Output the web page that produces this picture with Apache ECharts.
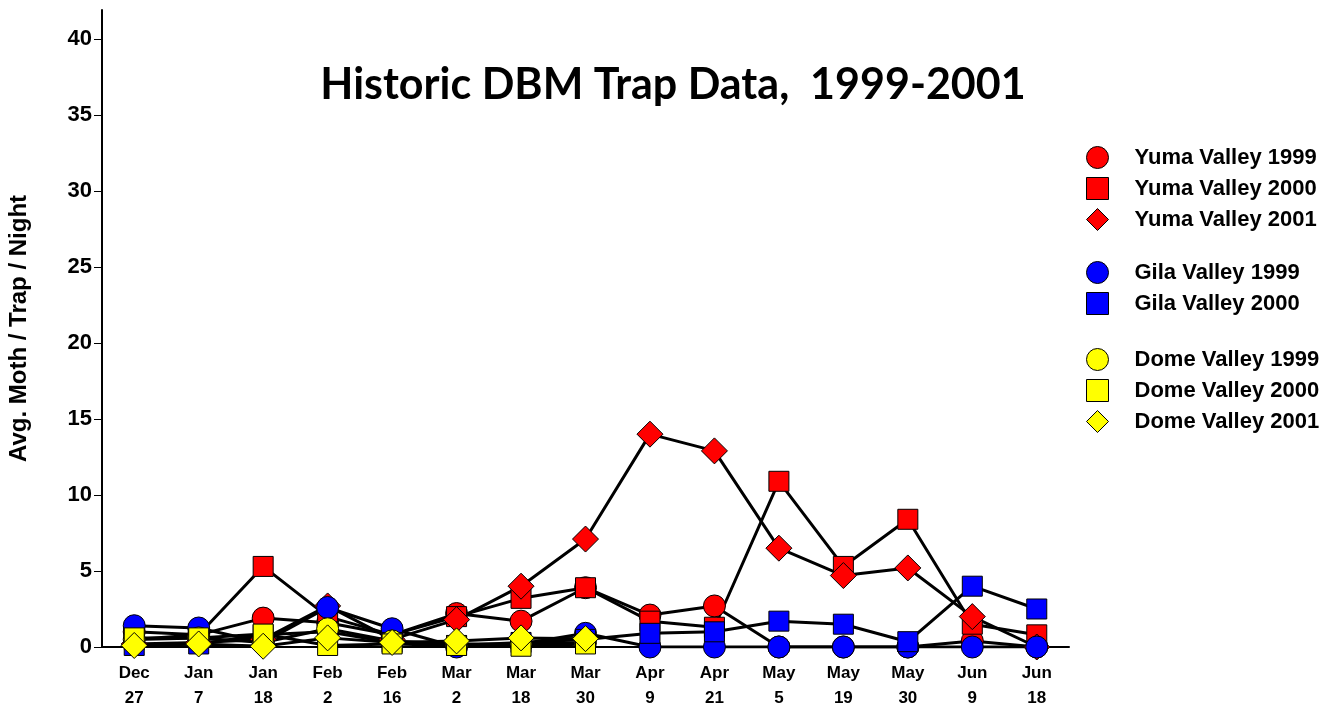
<!DOCTYPE html>
<html>
<head>
<meta charset="utf-8">
<script src="https://cdn.jsdelivr.net/npm/echarts@6/dist/echarts.min.js"></script>
<style>
  html, body { margin: 0; padding: 0; background: #fff; }
  #chart { width: 1334px; height: 707px; }
</style>
</head>
<body>
<div id="chart"></div>
<script>
// sample dates (x axis)
var dates = ['Dec\n27', 'Jan\n7', 'Jan\n18', 'Feb\n2', 'Feb\n16', 'Mar\n2', 'Mar\n18', 'Mar\n30',
             'Apr\n9', 'Apr\n21', 'May\n5', 'May\n19', 'May\n30', 'Jun\n9', 'Jun\n18'];

// avg moth / trap / night
var yuma1999 = [1.0, 0.8, 1.9, 1.6, 0.8, 2.2, 1.7, 3.9, 2.1, 2.7, 0, 0, 0, 0.4, 0];
var yuma2000 = [0.5, 0.8, 5.3, 2.0, 0.8, 2.0, 3.2, 3.9, 1.7, 1.3, 10.9, 5.3, 8.4, 1.5, 0.8];
var yuma2001 = [0.2, 0.3, 0.5, 2.7, 0.5, 1.8, 4.0, 7.1, 14.0, 12.9, 6.5, 4.7, 5.2, 2.0, 0];
var gila1999 = [1.4, 1.25, 0.3, 2.6, 1.2, 0, 0.2, 0.9, 0, 0, 0, 0, 0, 0, 0];
var gila2000 = [0.1, 0.2, 0.8, 1.0, 0.3, 0.1, 0.3, 0.5, 0.9, 1.0, 1.7, 1.5, 0.35, 4.0, 2.5];
var dome1999 = [0.5, 0.6, 0.3, 1.2, 0.4, 0.2, 0.2, 0.3, null, null, null, null, null, null, null];
var dome2000 = [0.6, 0.6, 0.85, 0.1, 0.2, 0.1, 0.05, 0.2, null, null, null, null, null, null, null];
var dome2001 = [0.1, 0.2, 0.05, 0.6, 0.3, 0.4, 0.6, 0.55, null, null, null, null, null, null, null];

var yTicks = [0, 5, 10, 15, 20, 25, 30, 35, 40];

var RED = '#ff0000', BLUE = '#0000ff', YELLOW = '#ffff00';
var FONT = '"Liberation Sans", Arial, sans-serif';

function mk(name, data, color, symbol, size) {
    return {
        name: name,
        type: 'line',
        data: data,
        symbol: symbol,
        symbolSize: size,
        showAllSymbol: true,
        connectNulls: false,
        animation: false,
        lineStyle: { color: '#000', width: 3 },
        itemStyle: { color: color, borderColor: '#000', borderWidth: 1 }
    };
}

function legendBox(top, names, icons) {
    var d = [];
    for (var i = 0; i < names.length; i++) {
        d.push({ name: names[i], icon: icons[i] });
    }
    return {
        orient: 'vertical',
        left: 1081,
        top: top,
        itemWidth: 22,
        itemHeight: 22,
        itemGap: 8,
        data: d,
        selectedMode: false,
        itemStyle: { borderColor: '#000', borderWidth: 1 },
        textStyle: { fontFamily: FONT, fontWeight: 'bold', fontSize: 22, color: '#000', padding: [0, 0, 0, 21] }
    };
}

var myChart = echarts.init(document.getElementById('chart'));
var option = {
    backgroundColor: '#fff',
    animation: false,
    title: {
        text: 'Historic DBM Trap Data,  1999-2001',
        left: 668,
        textAlign: 'center',
        top: 59,
        textStyle: { fontFamily: 'Lato, "Open Sans", sans-serif', fontWeight: 'bold', fontSize: 43, color: '#000' }
    },
    legend: [
        legendBox(141, ['Yuma Valley 1999', 'Yuma Valley 2000', 'Yuma Valley 2001'], ['circle', 'rect', 'diamond']),
        legendBox(256, ['Gila Valley 1999', 'Gila Valley 2000'], ['circle', 'rect']),
        legendBox(343, ['Dome Valley 1999', 'Dome Valley 2000', 'Dome Valley 2001'], ['circle', 'rect', 'diamond'])
    ],
    grid: { left: 102, top: 10, width: 967, bottom: 60, outerBoundsMode: 'none' },
    xAxis: {
        type: 'category',
        data: dates,
        boundaryGap: true,
        axisLine: { lineStyle: { color: '#000', width: 2 } },
        axisTick: { show: false },
        axisLabel: {
            interval: 0, margin: 14, lineHeight: 25,
            fontFamily: FONT, fontWeight: 'bold', fontSize: 17, color: '#000'
        }
    },
    yAxis: {
        type: 'value',
        min: 0,
        max: 41.9,
        interval: 5,
        name: 'Avg. Moth / Trap / Night',
        nameLocation: 'middle',
        nameRotate: 90,
        nameGap: 71,
        nameTextStyle: { fontFamily: FONT, fontWeight: 'bold', fontSize: 24, color: '#000' },
        splitLine: { show: false },
        axisLine: { show: true, lineStyle: { color: '#000', width: 2 } },
        axisTick: { show: true, length: 8, customValues: yTicks, lineStyle: { color: '#000', width: 1 } },
        axisLabel: { margin: 10, customValues: yTicks, fontFamily: FONT, fontWeight: 'bold', fontSize: 22, color: '#000' }
    },
    series: [
        mk('Yuma Valley 1999', yuma1999, RED, 'circle', 22),
        mk('Yuma Valley 2000', yuma2000, RED, 'rect', 20),
        mk('Yuma Valley 2001', yuma2001, RED, 'diamond', 26),
        mk('Gila Valley 1999', gila1999, BLUE, 'circle', 22),
        mk('Gila Valley 2000', gila2000, BLUE, 'rect', 20),
        mk('Dome Valley 1999', dome1999, YELLOW, 'circle', 22),
        mk('Dome Valley 2000', dome2000, YELLOW, 'rect', 20),
        mk('Dome Valley 2001', dome2001, YELLOW, 'diamond', 26)
    ]
};
myChart.setOption(option);
</script>
</body>
</html>
